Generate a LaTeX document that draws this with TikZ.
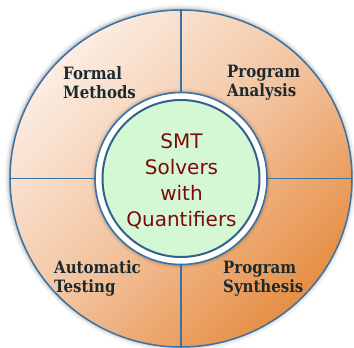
\documentclass[tikz,border=0pt]{standalone}
\usepackage{fontspec}
\setmainfont{DejaVu Serif}
\setsansfont{DejaVu Sans}
\newfontfamily\labelfont[FakeStretch=0.88]{DejaVu Serif}
\usetikzlibrary{shapes.geometric}
\definecolor{rimblue}{HTML}{3B72A4}
\definecolor{peachlight}{HTML}{FCEDE2}
\definecolor{peachmid}{HTML}{F3C4A0}
\definecolor{peachdark}{HTML}{E68E44}
\definecolor{mint}{HTML}{D4F8D4}
\definecolor{coremaroon}{HTML}{7D0A0A}
\definecolor{inkslate}{HTML}{1B2A30}
\begin{document}
\begin{tikzpicture}[x=1pt,y=-1pt,
  field/.style={font=\labelfont\bfseries\fontsize{17}{19}\selectfont, text=inkslate, align=left, inner sep=0pt},
  divider/.style={draw=rimblue, line width=1.5pt}]
\useasboundingbox (0,0) rectangle (354,348);
% soft halo around the outer disc
\foreach \g/\o in {5/0.03,3.5/0.05,2/0.07,1/0.09}{
  \fill[black,opacity=\o] (180.5,178) ellipse [x radius=171pt+\g pt, y radius=168.5pt+\g pt];}
% outer disc with diagonal peach gradient
\node[ellipse, minimum width=342pt, minimum height=337pt, inner sep=0pt,
  draw=rimblue, line width=1.5pt, shading=axis, top color=peachlight,
  bottom color=peachdark, middle color=peachmid, shading angle=45] (disc) at (181,178.5) {};
% halo around the central ring
\foreach \g/\o in {4/0.04,2.5/0.06,1.2/0.08}{
  \fill[black,opacity=\o] (181,178.5) circle [radius=86pt+\g pt];}
% white ring and the core disc
\node[circle, minimum size=172pt, inner sep=0pt, draw=rimblue, line width=1.6pt, fill=white] (ring) at (181,178.5) {};
\node[circle, minimum size=157pt, inner sep=0pt, draw=rimblue!85!black, line width=2pt,
  fill=mint] (core) at (181,178.5) {};
\node[text=coremaroon, align=center, inner sep=0pt,
  font=\sffamily\fontsize{20}{25.8}\selectfont] (coretext) at (181.5,181.5)
  {SMT\\Solvers\\with\\Quantifiers};
% quadrant dividers
\draw[divider] (ring.north) -- (disc.north);
\draw[divider] (ring.south) -- (disc.south);
\draw[divider] (ring.west) -- (disc.west);
\draw[divider] (ring.east) -- (disc.east);
% quadrant labels (anchored at the baseline of the second line)
\node[field, anchor=base west] (fm) at (63,98) {Formal\\Methods};
\node[field, anchor=base west] (pa) at (227,96) {Program\\Analysis};
\node[field, anchor=base west] (at) at (54,292) {Automatic\\Testing};
\node[field, anchor=base west] (ps) at (223,292) {Program\\Synthesis};
\end{tikzpicture}
\end{document}
